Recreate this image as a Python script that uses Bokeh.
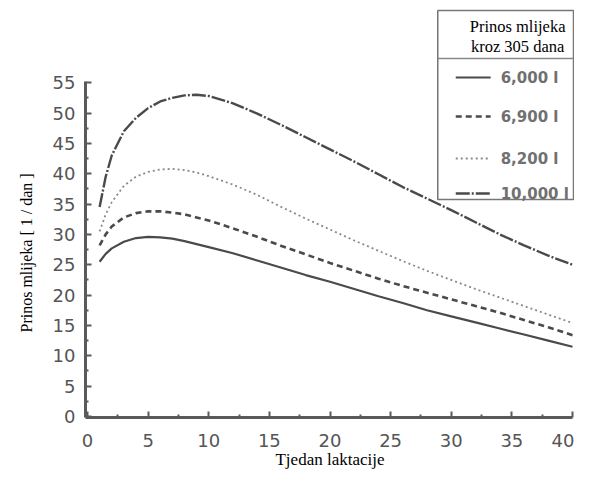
from bokeh.plotting import figure
from bokeh.models import FixedTicker, Label, Range1d, Title
from bokeh.embed import file_html
from bokeh.resources import INLINE

# ---- data ----
weeks = [1, 1.5, 2, 3, 4, 5, 6, 7, 8, 9, 10, 12, 14, 16, 18, 20, 22, 24, 26, 28, 30, 32, 34, 36, 38, 40]
y_6000 = [25.5, 26.8, 27.7, 28.8, 29.4, 29.6, 29.5, 29.3, 28.9, 28.4, 27.9, 26.9, 25.7, 24.5, 23.3, 22.2,
          21.0, 19.8, 18.7, 17.5, 16.5, 15.5, 14.5, 13.5, 12.5, 11.5]
y_6900 = [28.2, 30.0, 31.3, 32.8, 33.5, 33.8, 33.8, 33.6, 33.3, 32.8, 32.3, 31.0, 29.6, 28.1, 26.7, 25.3,
          24.0, 22.7, 21.5, 20.4, 19.3, 18.2, 17.1, 15.9, 14.7, 13.4]
y_8200 = [30.5, 33.3, 35.3, 38.0, 39.5, 40.3, 40.7, 40.8, 40.6, 40.2, 39.6, 38.2, 36.5, 34.5, 32.6, 30.8,
          29.0, 27.3, 25.6, 24.0, 22.5, 21.0, 19.6, 18.2, 16.8, 15.4]
y_10000 = [34.5, 39.5, 43.0, 47.0, 49.2, 50.8, 51.9, 52.5, 52.9, 53.0, 52.8, 51.6, 49.9, 48.0, 46.0, 44.0,
           42.0, 39.9, 37.8, 35.9, 34.0, 32.0, 30.0, 28.2, 26.5, 25.0]
series_labels = ["6,000 l", "6,900 l", "8,200 l", "10,000 l"]
x_ticks = [0, 5, 10, 15, 20, 25, 30, 35, 40]
y_ticks = [0, 5, 10, 15, 20, 25, 30, 35, 40, 45, 50, 55]
legend_title = ["Prinos mlijeka", "kroz 305 dana"]
x_title = "Tjedan laktacije"
y_title = "Prinos mlijeka [ 1 / dan ]"

# ---- geometry (figure pixels -> data) ----
X0_PX, XPX = 86.0, 12.15      # x=0 at px 86, px per unit
Y0_PX, YPX = 416.0, 6.07      # y=0 at py 416, px per unit
def dx(px):
    return (px - X0_PX) / XPX
def dy(py):
    return (Y0_PX - py) / YPX

W, H = 574, 475
FRAME_L, FRAME_R, FRAME_T, FRAME_B = 84, W, 4, 417

p = figure(width=W, height=H, output_backend="svg", toolbar_location=None,
           x_range=Range1d(dx(FRAME_L), dx(FRAME_R)),
           y_range=Range1d(dy(FRAME_B), dy(FRAME_T)),
           min_border_left=FRAME_L, min_border_right=W - FRAME_R,
           min_border_top=FRAME_T, min_border_bottom=H - FRAME_B)
p.outline_line_color = None
p.background_fill_color = "white"
p.border_fill_color = "white"
p.xgrid.visible = False
p.ygrid.visible = False

AX = "#5a5a5a"
for ax in (p.xaxis[0], p.yaxis[0]):
    ax.axis_line_color = AX
    ax.axis_line_width = 3
    ax.major_tick_line_color = AX
    ax.major_tick_line_width = 2
    ax.minor_tick_line_color = AX
    ax.minor_tick_line_width = 2
    ax.major_tick_in = 6
    ax.major_tick_out = 0
    ax.minor_tick_in = 3
    ax.minor_tick_out = 0
    ax.major_label_text_font = "DejaVu Sans"
    ax.major_label_text_font_size = "18px"
    ax.major_label_text_color = "#555555"
    ax.axis_label_text_font = "Liberation Serif"
    ax.axis_label_text_font_style = "normal"
    ax.axis_label_text_color = "black"

p.xaxis.ticker = FixedTicker(ticks=x_ticks, minor_ticks=[t + 2.5 for t in x_ticks[:-1]])
p.yaxis.ticker = FixedTicker(ticks=y_ticks, minor_ticks=[t + 2.5 for t in y_ticks[:-1]])
p.xaxis.bounds = (dx(FRAME_L), 40)
p.yaxis.bounds = (dy(FRAME_B), 55.2)
p.xaxis.major_label_standoff = 16
p.yaxis.major_label_standoff = 10

p.xaxis.axis_label = x_title
p.xaxis.axis_label_text_font_size = "17px"
p.xaxis.axis_label_standoff = 0

# y title: a left-side Title, shifted so it sits lower than the frame centre
p.add_layout(Title(text=y_title, align="left", offset=85, standoff=30,
                   text_font="Liberation Serif", text_font_size="16px",
                   text_font_style="normal", text_color="black"), "left")

styles = [
    dict(line_color="#4a4a4a", line_width=2.2, line_dash="solid"),
    dict(line_color="#4a4a4a", line_width=2.6, line_dash="6 4"),
    dict(line_color="#8a8a8a", line_width=1.8, line_dash="2 3"),
    dict(line_color="#4a4a4a", line_width=2.4, line_dash="14 2 2 2"),
]
for ys, st in zip([y_6000, y_6900, y_8200, y_10000], styles):
    p.line(weeks, ys, **st)

# ---- legend box ----
BOX_L, BOX_R, BOX_T, BOX_B, SEP = 437, 573, 10, 199, 58
p.quad(left=[dx(BOX_L)], right=[dx(BOX_R)], top=[dy(BOX_T)], bottom=[dy(BOX_B)],
       fill_color="white", line_color="#777777", line_width=1.5)
p.segment(x0=[dx(BOX_L)], x1=[dx(BOX_R)], y0=[dy(SEP)], y1=[dy(SEP)],
          line_color="#888888", line_width=1.5)
for txt, py in zip(legend_title, [26, 46]):
    p.add_layout(Label(x=dx(517), y=dy(py), text=txt, text_font="Liberation Serif",
                       text_font_size="16.5px", text_color="black",
                       text_align="center", text_baseline="middle"))
entry_py = [77, 116, 158, 193]
for lab, py, st in zip(series_labels, entry_py, styles):
    p.line([dx(455), dx(490)], [dy(py), dy(py)], **st)
    p.add_layout(Label(x=dx(500), y=dy(py), text=lab, text_font="DejaVu Sans",
                       text_font_size="15px", text_font_style="bold", text_color="#707070",
                       text_align="left", text_baseline="middle"))

open("out.html", "w").write(file_html(p, INLINE))
